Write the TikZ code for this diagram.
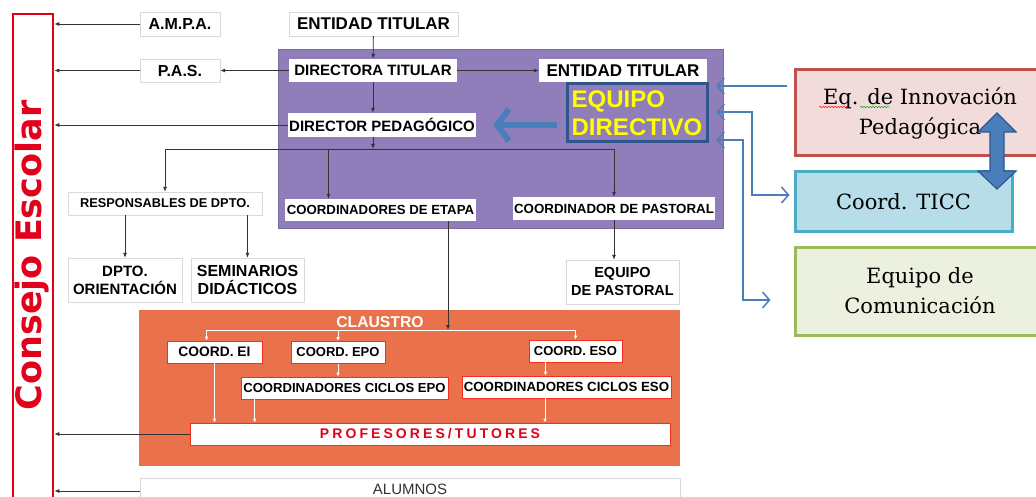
\documentclass[tikz,border=0pt]{standalone}
\usepackage{fontspec}
\setmainfont{Liberation Sans}
\newfontfamily\serifa{DejaVu Serif}
\newfontfamily\verdana{DejaVu Sans}
\usetikzlibrary{arrows.meta,positioning,calc,decorations.pathmorphing}

\definecolor{morado}{RGB}{143,126,186}
\definecolor{naranja}{RGB}{233,114,76}
\definecolor{rojoce}{RGB}{226,0,26}
\definecolor{azul}{RGB}{74,126,187}
\definecolor{azulosc}{RGB}{47,85,140}
\definecolor{amarillo}{RGB}{255,255,0}
\definecolor{rojoinn}{RGB}{192,80,77}
\definecolor{rosa}{RGB}{242,220,219}
\definecolor{turq}{RGB}{75,172,198}
\definecolor{celeste}{RGB}{183,222,232}
\definecolor{verde}{RGB}{155,187,89}
\definecolor{verdecl}{RGB}{235,241,222}

\newcommand{\letra}[2]{\fontsize{#1}{#2}\selectfont}

\tikzset{
  caja/.style={draw=gray!30, fill=white, inner sep=1pt, align=center},
  cajin/.style={fill=white, inner sep=1pt, align=center},
  cajor/.style={draw=red!60!naranja, line width=0.6pt, fill=white, inner sep=1pt, align=center},
  flecha/.style={draw=black!80, line width=0.8pt, -{Latex[length=5pt,width=4pt]}},
  linea/.style={draw=black!80, line width=0.8pt},
  flechab/.style={draw=white, line width=0.8pt, -{Latex[length=4pt,width=3.5pt]}},
  lineab/.style={draw=white, line width=0.8pt},
  flechaz/.style={draw=azul, line width=1.5pt, >={Straight Barb[length=7pt,width=16pt]}},
  equipo/.style={draw=azulosc, line width=3pt, fill=morado, text=amarillo, align=left,
    inner sep=2pt, font=\bfseries\letra{24}{28}},
  grupo/.style={line width=3pt, align=center, font=\serifa\letra{21}{30}}
}

\begin{document}
\begin{tikzpicture}[x=1pt,y=-1pt]
\useasboundingbox (0,0) rectangle (1036,497);

% fondos
\node[draw=rojoce, line width=2.5pt, fill=white, minimum width=40, minimum height=495, inner sep=0pt] (consejo) at (33,261.5) {};
\node[rotate=90, text=rojoce, font=\verdana\bfseries\letra{35}{40}] (consejotxt) at (32,255.5) {Consejo Escolar};
\node[fill=morado, draw=morado!85!black, line width=0.5pt, minimum width=445, minimum height=179, inner sep=0pt] (direccion) at (500.5,138.5) {};
\node[fill=naranja, minimum width=541, minimum height=156, inner sep=0pt] (claustro) at (409.5,388) {};

% cajas de arriba
\node[caja, minimum width=80, minimum height=24, font=\bfseries\letra{16}{19}] (ampa) at (180,24) {A.M.P.A.};
\node[caja, minimum width=80, minimum height=23, font=\bfseries\letra{16}{19}] (pas) at (180,70.5) {P.A.S.};
\node[caja, minimum width=169, minimum height=24, font=\bfseries\letra{17}{20}] (entidad) at (373.5,24) {ENTIDAD TITULAR};

% equipo directivo
\node[cajin, minimum width=168, minimum height=23, font=\bfseries\letra{15}{18}] (directora) at (373,70.5) {DIRECTORA TITULAR};
\node[cajin, minimum width=168, minimum height=23, font=\bfseries\letra{17}{20}] (entidadb) at (623,70.5) {ENTIDAD TITULAR};
\node[equipo, minimum width=140, minimum height=58] (equipo) at (637,113) {EQUIPO\\DIRECTIVO};
\node[cajin, minimum width=188, minimum height=24, font=\bfseries\letra{15}{18}] (pedagogico) at (382,125) {DIRECTOR PEDAGÓGICO};
\node[cajin, minimum width=191, minimum height=22, font=\bfseries\letra{13.2}{16}] (etapa) at (380.5,210) {COORDINADORES DE ETAPA};
\node[cajin, minimum width=202, minimum height=23, font=\bfseries\letra{13.3}{16}] (pastoral) at (614,208.5) {COORDINADOR DE PASTORAL};

% departamentos
\node[caja, minimum width=194, minimum height=23, font=\bfseries\letra{12.8}{15}] (responsables) at (165,203.5) {RESPONSABLES DE DPTO.};
\node[caja, minimum width=114, minimum height=44, font=\bfseries\letra{15}{18}] (orientacion) at (125,280) {DPTO.\\ORIENTACIÓN};
\node[caja, minimum width=113, minimum height=44, font=\bfseries\letra{16}{18}] (seminarios) at (247.5,280) {SEMINARIOS\\DIDÁCTICOS};
\node[caja, minimum width=113, minimum height=44, font=\bfseries\letra{14.5}{18}] (eqpastoral) at (622.5,282) {EQUIPO\\DE PASTORAL};

% claustro
\node[text=white, font=\bfseries\letra{15.7}{18}] (claustrotxt) at (380,322) {CLAUSTRO};
\node[cajor, minimum width=95, minimum height=22, font=\bfseries\letra{13.8}{16}] (ei) at (214.5,352) {COORD. EI};
\node[cajor, minimum width=94, minimum height=22, font=\bfseries\letra{13}{16}] (epo) at (338,352.5) {COORD. EPO};
\node[cajor, minimum width=93, minimum height=22, font=\bfseries\letra{13}{16}] (eso) at (575.5,351) {COORD. ESO};
\node[cajor, minimum width=207, minimum height=22, font=\bfseries\letra{13.1}{16}] (ciclosepo) at (344.5,388) {COORDINADORES CICLOS EPO};
\node[cajor, minimum width=209, minimum height=22, font=\bfseries\letra{13.3}{16}] (cicloseso) at (566.5,387) {COORDINADORES CICLOS ESO};
\node[cajor, minimum width=480, minimum height=22, text=rojoce, font=\bfseries\letra{14}{17}\addfontfeature{LetterSpace=22}] (profesores) at (430,434) {PROFESORES/TUTORES};
\node[caja, minimum width=540, minimum height=22, text=black!80, font=\letra{15}{18}] (alumnos) at (410,489) {ALUMNOS};

% grupos de la derecha
\node[grupo, draw=rojoinn, fill=rosa, minimum width=250, minimum height=86] (innovacion) at (920,113) {Eq. de Innovación\\Pedagógica};
\node[grupo, draw=turq, fill=celeste, minimum width=217, minimum height=60] (ticc) at (903.5,202) {Coord. TICC};
\node[grupo, draw=verde, fill=verdecl, minimum width=250, minimum height=88] (comunicacion) at (920,291) {Equipo de\\Comunicación};
\draw[red, decorate, decoration={snake, amplitude=0.8pt, segment length=3pt}] (819,107) -- (848,107);
\draw[green!60!black, decorate, decoration={snake, amplitude=0.8pt, segment length=3pt}] (860,107) -- (890,107);
\draw[fill=azul, draw=azulosc, line width=1.2pt] (997,113) -- (1016,132) -- (1004,132) -- (1004,171) -- (1016,171)
  -- (997,189) -- (978,171) -- (990,171) -- (990,132) -- (978,132) -- cycle;

% hacia el consejo
\draw[flecha] (ampa) -- (ampa -| consejo.east);
\draw[flecha] (pas) -- (pas -| consejo.east);
\draw[flecha] (pedagogico.west) -- (pedagogico.west -| consejo.east);
\draw[flecha] (profesores.west) -- (profesores.west -| consejo.east);
\draw[flecha] ([yshift=-2pt]alumnos.west) -- ([yshift=-2pt]alumnos.west -| consejo.east);

% organigrama
\draw[flecha] (entidad) -- (directora);
\draw[flecha] (directora) -- (pas);
\draw[flecha] (directora) -- (entidadb);
\draw[flecha] (directora) -- (directora |- pedagogico.north);
\coordinate (bus1) at (373,149);
\draw[flecha] (pedagogico.south -| bus1) -- (bus1);
\draw[linea] (bus1 -| responsables) -- (bus1 -| pastoral);
\draw[flecha] (bus1 -| responsables) -- (responsables);
\draw[flecha] ([xshift=-52pt]etapa.north |- bus1) -- ([xshift=-52pt]etapa.north);
\draw[flecha] (bus1 -| pastoral) -- (pastoral);
\draw[flecha] (responsables.south -| orientacion) -- (orientacion);
\draw[flecha] (responsables.south -| seminarios) -- (seminarios);
\draw[flecha] (pastoral) -- (pastoral |- eqpastoral.north);
\draw[draw=azul, line width=6pt, -{Straight Barb[length=12pt,width=32pt]}] ([xshift=-9pt]equipo.west |- pedagogico.east) -- ([xshift=17pt]pedagogico.east);

% dentro del claustro
\coordinate (bus2) at (448,330);
\draw[flecha] ([xshift=67.5pt]etapa.south) -- (bus2);
\draw[lineab] ([xshift=-8pt]ei.north |- bus2) -- (bus2 -| eso);
\draw[flechab] ([xshift=-8pt]ei.north |- bus2) -- ([xshift=-8pt]ei.north);
\draw[flechab] (bus2 -| epo) -- (epo);
\draw[flechab] (bus2 -| eso) -- (eso);
\draw[flechab] (epo) -- (epo |- ciclosepo.north);
\draw[flechab] ([xshift=-30pt]eso.south) -- ([xshift=-30pt]eso.south |- cicloseso.north);
\draw[flechab] (ei) -- (ei |- profesores.north);
\draw[flechab] ([xshift=14pt]ciclosepo.south west) -- ([xshift=14pt]ciclosepo.south west |- profesores.north);
\draw[flechab] ([xshift=-21.5pt]cicloseso.south) -- ([xshift=-21.5pt]cicloseso.south |- profesores.north);

% enlaces con los grupos
\coordinate (a1) at (787,86);
\coordinate (a2) at (752,112);
\coordinate (a2b) at (752,195);
\coordinate (a3) at (743,140);
\coordinate (a3b) at (743,300);
\draw[flechaz, ->] (a1) -- ([xshift=-7pt]direccion.east |- a1);
\draw[flechaz, <->] ([xshift=-7pt]direccion.east |- a2) -- (a2) -- (a2b) -- ([xshift=-4pt]ticc.west |- a2b);
\draw[flechaz, <->] ([xshift=-7pt]direccion.east |- a3) -- (a3) -- (a3b) -- ([xshift=-23pt]comunicacion.west |- a3b);

\end{tikzpicture}
\end{document}
